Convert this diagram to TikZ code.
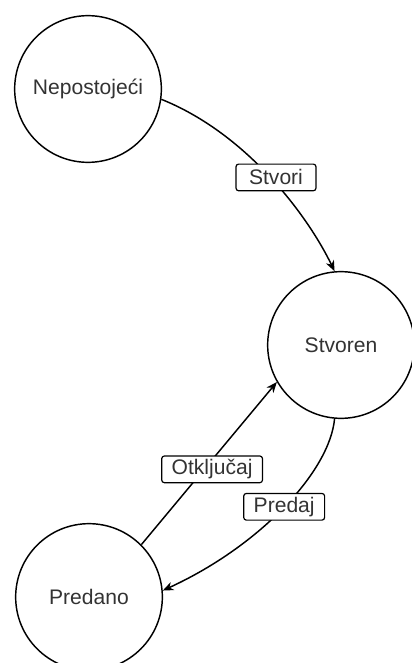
\documentclass[tikz,border=0pt]{standalone}
\usepackage{fontspec}
\setmainfont{Liberation Sans}
\usetikzlibrary{arrows.meta}
\definecolor{txt}{HTML}{333333}
\begin{document}
\begin{tikzpicture}[x=0.75pt,y=-0.75pt,
 state/.style={circle,draw=black,line width=1.1pt,fill=white,minimum size=110pt,inner sep=0pt,text=txt,font=\fontsize{15.8}{19}\selectfont},
 conn/.style={draw=black,line width=1.1pt,-{Stealth[length=8pt,width=6.5pt,inset=2.5pt]}},
 lbl/.style={draw=black,line width=0.9pt,rounded corners=2pt,fill=white,text=txt,font=\fontsize{15.8}{19}\selectfont,inner xsep=7.5pt,inner ysep=0pt,minimum height=20pt,minimum width=60pt}]
\useasboundingbox (0,0) rectangle (411,663);
\node[state] (nep) at (88,89) {Nepostojeći};
\node[state] (stv) at (341,345) {Stvoren};
\node[state] (pre) at (89,597) {Predano};
\draw[conn] (nep.-8) .. controls (250,135) and (310,220) .. (stv.95) node[lbl,pos=0.5,xshift=3pt,yshift=1.5pt]{Stvori};
\draw[conn] (pre.45) -- (stv.-150) node[lbl,pos=0.463,xshift=6pt]{Otključaj};
\draw[conn] (stv.-95) .. controls (330,470) and (262,545) .. (pre.5) node[lbl,pos=0.5]{Predaj};
\end{tikzpicture}
\end{document}
